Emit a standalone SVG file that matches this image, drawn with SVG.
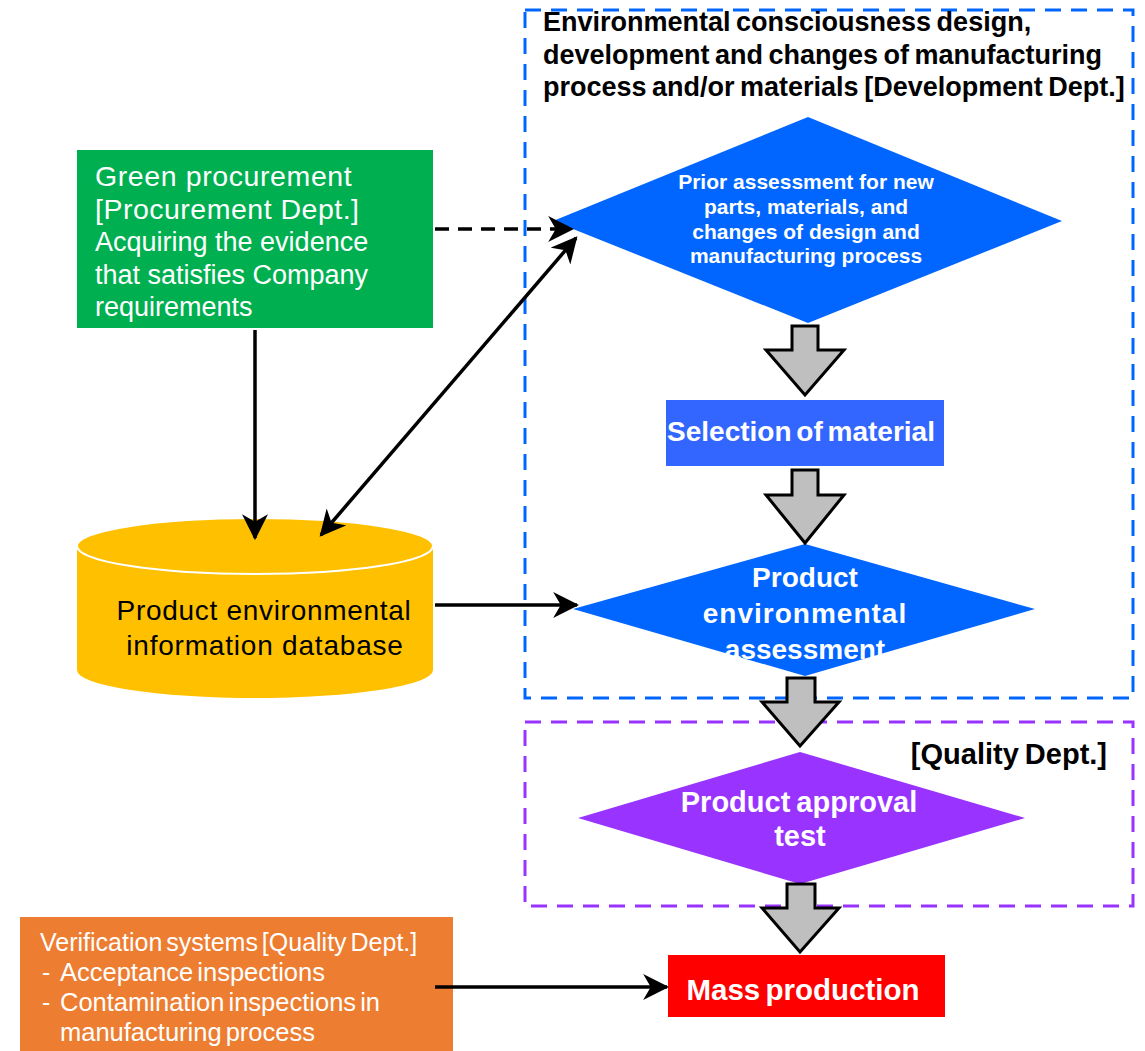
<svg xmlns="http://www.w3.org/2000/svg" width="1145" height="1051" viewBox="0 0 1145 1051">
<style>
.reg{font-family:"Liberation Sans",Arial,sans-serif;}
.bold{font-family:"Liberation Sans",Arial,sans-serif;font-weight:bold;}
.w{fill:#fff;}
.k{fill:#000;}
.conn{stroke:#000;stroke-width:3.5;fill:none;}
.garrow{fill:#BFBFBF;stroke:#000;stroke-width:3;stroke-linejoin:miter;}
</style>
<defs>
<marker id="ahb" viewBox="0 0 12 12" refX="11" refY="6" markerWidth="26" markerHeight="26" markerUnits="userSpaceOnUse" orient="auto-start-reverse">
<path d="M0,0 L12,6 L0,12 L3.5,6 z" fill="#000"/>
</marker>
<clipPath id="clipPEA"><rect x="560" y="540" width="480" height="120"/></clipPath>
</defs>
<rect width="1145" height="1051" fill="#fff"/>

<g id="dev-region">
<rect x="525" y="10" width="608" height="688" fill="none" stroke="#0066FF" stroke-width="3" stroke-dasharray="16 10"/>
<text class="bold k" font-size="27" word-spacing="-2" x="543" y="31">Environmental consciousness design,</text>
<text class="bold k" font-size="27" word-spacing="-2" x="543" y="64">development and changes of manufacturing</text>
<text class="bold k" font-size="27" word-spacing="-2" x="543" y="96">process and/or materials [Development Dept.]</text>
</g>

<g id="quality-region">
<rect x="525" y="722" width="608" height="184" fill="none" stroke="#9933FF" stroke-width="3" stroke-dasharray="16 10"/>
<text class="bold k" font-size="29" word-spacing="-2" x="1107" y="764" text-anchor="end">[Quality Dept.]</text>
</g>

<g id="green-procurement">
<rect x="77" y="150" width="356" height="178" fill="#00B050"/>
<text class="reg w" font-size="28.5" letter-spacing="0.6" x="95" y="186">Green procurement</text>
<text class="reg w" font-size="28.5" letter-spacing="0.5" x="95" y="219">[Procurement Dept.]</text>
<text class="reg w" font-size="27" x="95" y="251">Acquiring the evidence</text>
<text class="reg w" font-size="27" x="95" y="284">that satisfies Company</text>
<text class="reg w" font-size="27" x="95" y="316">requirements</text>
</g>

<g id="database">
<path d="M77,546 L77,670 A178,28 0 0 0 433,670 L433,546 Z" fill="#FFC000"/>
<ellipse cx="255" cy="546" rx="178" ry="28" fill="#FFC000" stroke="#fff" stroke-width="2"/>
<text class="reg k" font-size="28" letter-spacing="0.7" x="264" y="620" text-anchor="middle">Product environmental</text>
<text class="reg k" font-size="28" letter-spacing="0.8" x="265" y="655" text-anchor="middle">information database</text>
</g>

<g id="prior-assessment">
<polygon points="808,117 1062,221 808,323 553,221" fill="#0066FF"/>
<text class="bold w" font-size="21" x="806" y="189" text-anchor="middle">Prior assessment for new</text>
<text class="bold w" font-size="21" x="806" y="214" text-anchor="middle">parts, materials, and</text>
<text class="bold w" font-size="21" x="806" y="239" text-anchor="middle">changes of design and</text>
<text class="bold w" font-size="21" x="806" y="263" text-anchor="middle">manufacturing process</text>
</g>

<g id="selection-material">
<rect x="666" y="400" width="278" height="66" fill="#3366FF"/>
<text class="bold w" font-size="28" word-spacing="-3" x="801" y="441" text-anchor="middle">Selection of material</text>
</g>

<g id="product-env-assessment">
<polygon points="805,544 1035,609 805,676 573,609" fill="#0066FF"/>
<g clip-path="url(#clipPEA)">
<text class="bold w" font-size="28" x="805" y="587" text-anchor="middle">Product</text>
<text class="bold w" font-size="28" x="805" y="623" text-anchor="middle" letter-spacing="1">environmental</text>
<text class="bold w" font-size="28" x="805" y="659" text-anchor="middle">assessment</text>
</g>
</g>

<g id="product-approval">
<polygon points="800,752 1025,818 800,884 578,818" fill="#9933FF"/>
<text class="bold w" font-size="29" word-spacing="-2" x="799" y="812" text-anchor="middle">Product approval</text>
<text class="bold w" font-size="29" x="800" y="846" text-anchor="middle">test</text>
</g>

<g id="mass-production">
<rect x="668" y="955" width="277" height="62" fill="#FF0000"/>
<text class="bold w" font-size="29.5" word-spacing="-3" x="803" y="1000" text-anchor="middle">Mass production</text>
</g>

<g id="verification">
<rect x="20" y="917" width="433" height="134" fill="#ED7D31"/>
<text class="reg w" font-size="25" word-spacing="-3" x="40" y="951">Verification systems [Quality Dept.]</text>
<text class="reg w" font-size="25" x="42" y="981">-</text>
<text class="reg w" font-size="25.5" word-spacing="-3" x="60" y="981">Acceptance inspections</text>
<text class="reg w" font-size="25" x="42" y="1011">-</text>
<text class="reg w" font-size="25.5" word-spacing="-3" x="60" y="1011">Contamination  inspections in</text>
<text class="reg w" font-size="25.5" word-spacing="-3" x="60" y="1041">manufacturing process</text>
</g>

<g id="connectors">
<line class="conn" x1="255" y1="330" x2="255" y2="538" marker-end="url(#ahb)"/>
<line class="conn" x1="321" y1="535" x2="576" y2="238" marker-start="url(#ahb)" marker-end="url(#ahb)"/>
<line class="conn" x1="435" y1="229" x2="572" y2="229" stroke-width="4" stroke-dasharray="14 9" marker-end="url(#ahb)"/>
<line class="conn" x1="435" y1="605" x2="577" y2="605" marker-end="url(#ahb)"/>
<line class="conn" x1="435" y1="987" x2="667" y2="987" marker-end="url(#ahb)"/>
<path class="garrow" d="M792,326 L818,326 L818,350 L844,350 L805,395 L766,350 L792,350 Z"/>
<path class="garrow" d="M792,470 L818,470 L818,495 L844,495 L805,543 L766,495 L792,495 Z"/>
<path class="garrow" d="M787,678 L815,678 L815,702 L839,702 L800,746 L762,702 L787,702 Z"/>
<path class="garrow" d="M787,884 L815,884 L815,908 L839,908 L800,952 L762,908 L787,908 Z"/>
</g>
</svg>
